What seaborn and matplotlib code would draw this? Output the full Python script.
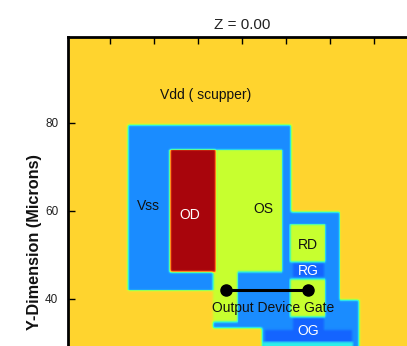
import numpy as np
import matplotlib.pyplot as plt
import seaborn as sns
from matplotlib.colors import LinearSegmentedColormap

# device layout, in microns; later regions paint over earlier ones
region_names = ['Vss', 'Vss', 'Vss', 'Vss', 'OS', 'OS', 'OD', 'RD', 'RG', 'Gate', 'OG', 'OG', 'SW']
region_left = [13.9, 33.3, 44.5, 44.5, 34.2, 33.3, 23.6, 51.0, 51.5, 51.0, 51.5, 45.2, 44.7]
region_right = [51.1, 51.1, 62.2, 66.5, 49.1, 39.0, 34.0, 59.0, 58.6, 59.0, 58.6, 65.0, 65.2]
region_bottom = [42.0, 33.4, 39.8, 20.0, 46.1, 34.8, 46.1, 48.4, 45.0, 35.9, 30.4, 30.4, 20.0]
region_top = [79.5, 42.0, 59.8, 39.8, 73.9, 46.1, 73.9, 57.0, 48.2, 44.5, 35.7, 33.0, 30.1]
region_level = [0.18, 0.18, 0.18, 0.18, 0.55, 0.55, 1.0, 0.55, 0.10, 0.55, 0.10, 0.10, 0.35]
background_level = 0.65

x_ticks = [10, 20, 30, 40, 50, 60, 70]
y_ticks = [80, 60, 40]

step = 0.2
x_min, x_max = 0.4, 79.5
y_min, y_max = 6.3, 99.5
xs = np.arange(x_min, x_max, step)
ys = np.arange(y_max, y_min, -step)

grid = np.full((len(ys), len(xs)), background_level)
for i in range(len(region_names)):
    inside_x = (xs >= region_left[i]) & (xs < region_right[i])
    inside_y = (ys >= region_bottom[i]) & (ys < region_top[i])
    grid[np.ix_(inside_y, inside_x)] = region_level[i]

# soften the edges so the borders run through the colour scale
kernel = np.exp(-0.5 * (np.arange(-6, 7) * step / 0.22) ** 2)
kernel /= kernel.sum()
pad = 6
grid = np.pad(grid, pad, mode='edge')
grid = np.apply_along_axis(lambda r: np.convolve(r, kernel, mode='same'), 0, grid)
grid = np.apply_along_axis(lambda r: np.convolve(r, kernel, mode='same'), 1, grid)
grid = grid[pad:-pad, pad:-pad]

cmap = LinearSegmentedColormap.from_list('device', [
    (0.00, '#1464ff'), (0.10, '#1464ff'), (0.18, '#1a8cff'), (0.35, '#2ef0e8'),
    (0.45, '#60ff90'), (0.55, '#c8ff2e'), (0.65, '#ffd52e'), (0.80, '#ff5a14'),
    (1.00, '#a8050c')])


def to_col(x):
    return (x - x_min) / step


def to_row(y):
    return (y_max - y) / step


sns.set_theme(style='white')
plt.rcParams['font.family'] = ['Liberation Sans', 'DejaVu Sans']

fig = plt.figure(figsize=(4.07, 3.46), dpi=100)
ax = fig.add_axes([68 / 407, (346 - 447) / 346, 348 / 407, 410 / 346])
sns.heatmap(grid, ax=ax, cmap=cmap, vmin=0, vmax=1, cbar=False,
            xticklabels=False, yticklabels=False, rasterized=True)
ax.set_axisbelow(False)

for s in ax.spines.values():
    s.set_visible(True)
    s.set_linewidth(2.0)
    s.set_color('black')

ax.set_xticks([to_col(v) for v in x_ticks])
ax.set_xticklabels([])
ax.set_yticks([to_row(v) for v in y_ticks])
ax.set_yticklabels([str(v) for v in y_ticks], fontsize=8.5)
ax.tick_params(axis='x', which='both', direction='in', top=True, bottom=True, length=5, width=1, color='black')
ax.tick_params(axis='y', which='both', direction='in', left=True, right=True, length=5, width=1, color='black',
               pad=7, labelcolor='#222222')

ax.set_title('Z = 0.00', fontsize=11, pad=6, color='#222222')
ax.set_ylabel('Y-Dimension (Microns)', fontsize=11.7, fontweight='bold', labelpad=2, color='#111111')

# output device gate marker
ax.plot([to_col(36.45), to_col(55.05)], [to_row(41.9), to_row(41.9)], color='black', lw=2.2,
        marker='o', ms=8, solid_capstyle='butt')


def label(x, y, text, color='#111111'):
    ax.text(to_col(x), to_row(y), text, ha='center', va='center', fontsize=10, color=color)


label(31.7, 86.4, 'Vdd ( scupper)')
label(18.6, 61.05, 'Vss')
label(28.1, 59.15, 'OD', 'white')
label(44.9, 60.35, 'OS')
label(55.0, 52.15, 'RD')
label(55.0, 46.25, 'RG', 'white')
label(47.1, 37.9, 'Output Device Gate')
label(55.0, 32.6, 'OG', 'white')

fig.savefig('out.png', dpi=100)
